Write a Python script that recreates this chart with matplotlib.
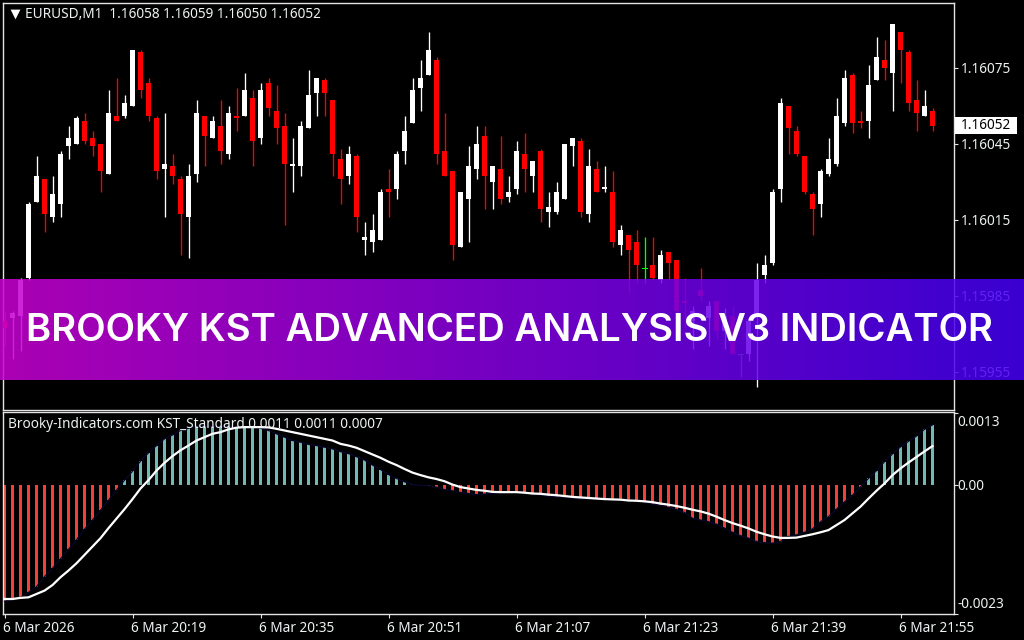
import numpy as np
import matplotlib
matplotlib.use("Agg")
import matplotlib.pyplot as plt
from matplotlib.colors import LinearSegmentedColormap
from matplotlib.patches import Rectangle
from matplotlib.transforms import ScaledTranslation

# prices are stored as points: 16075 means 1.16075
highs = [15979,15979,15992,16022,16040,16031,16032,16042,16052,16056,
         16057,16050,16045,16066,16071,16064,16082,16082,16071,16056,
         16057,16041,16032,16037,16062,16056,16056,16062,16060,16067,
         16073,16066,16069,16071,16068,16057,16047,16054,16074,16071,
         16071,16062,16043,16044,16041,16014,16017,16027,16035,16042,
         16056,16071,16078,16089,16079,16057,16034,16026,16044,16052,
         16052,16036,16048,16032,16046,16049,16038,16043,16026,16030,
         16045,16047,16047,16043,16038,16036,16034,16013,16009,16011,
         16008,16008,16003,16002,15999,15992,15981,15996,15983,15983,
         15980,15981,15962,15975,15998,16001,16027,16063,16060,16052,
         16040,16026,16035,16047,16063,16074,16073,16058,16076,16087,
         16086,16092,16089,16082,16070,16066,16059]
opens = [15975,15976,15977,15992,16022,16031,16016,16021,16044,16045,
         16054,16047,16045,16033,16056,16056,16060,16081,16069,16055,
         16035,16036,16031,16016,16033,16056,16047,16052,16041,16056,
         16056,16063,16047,16069,16058,16052,16036,16036,16051,16065,
         16070,16062,16039,16032,16040,16007,16006,16007,16027,16027,
         16042,16053,16067,16072,16078,16042,16034,16004,16023,16035,
         16048,16030,16035,16024,16027,16041,16032,16042,16018,16018,
         16023,16044,16046,16017,16035,16027,16026,16005,16009,16006,
         15996,15997,15991,16002,15999,15983,15975,15987,15976,15983,
         15971,15977,15962,15962,15978,15993,15998,16027,16060,16050,
         16040,16025,16021,16033,16037,16053,16072,16054,16054,16070,
         16078,16073,16089,16081,16062,16056,16058]
lows = [15965,15960,15963,15991,16022,16010,16014,16016,16039,16045,
        16045,16040,16026,16033,16054,16055,16060,16063,16054,16031,
        16016,16029,16001,16000,16030,16036,16047,16037,16039,16050,
        16056,16036,16045,16056,16045,16013,16026,16032,16051,16056,
        16056,16032,16021,16029,16010,16001,16002,16007,16016,16023,
        16037,16053,16058,16072,16037,16032,15999,16004,16006,16031,
        16019,16019,16021,16022,16025,16026,16026,16014,16012,16017,
        16023,16036,16016,16014,16026,16026,16004,16001,15986,15990,
        15990,15991,15990,15991,15973,15972,15964,15983,15965,15968,
        15964,15962,15953,15959,15949,15990,15997,16022,16041,16040,
        16025,16009,16016,16032,16036,16052,16049,16051,16047,16070,
        16070,16058,16069,16058,16050,16056,16050]
closes = [15972,15978,15991,16021,16032,16017,16025,16041,16047,16055,
          16046,16044,16034,16057,16054,16061,16082,16066,16056,16034,
          16037,16032,16017,16032,16057,16048,16054,16042,16057,16055,
          16066,16046,16066,16059,16051,16037,16037,16052,16064,16071,
          16065,16041,16031,16041,16016,16008,16011,16026,16026,16041,
          16050,16066,16071,16082,16041,16032,16005,16026,16036,16045,
          16032,16036,16023,16026,16042,16035,16038,16019,16020,16026,
          16045,16047,16018,16036,16026,16028,16006,16011,16003,15997,
          15996,15992,16001,15998,15979,15982,15979,15985,15981,15971,
          15977,15962,15962,15975,15991,15997,16026,16061,16051,16041,
          16026,16019,16034,16039,16056,16071,16053,16053,16068,16079,
          16075,16092,16082,16061,16057,16060,16052]

# KST histogram and signal, in units of 0.0001
kst_hist = [-20.8,-20.5,-20.1,-19.2,-18.2,-16.4,-14.9,-13.2,-11.5,-9.8,
            -7.9,-6.25,-4.5,-2.7,-0.9,0.9,2.5,4.3,5.8,7.1,
            8.3,9.0,9.8,10.2,10.6,10.6,10.6,10.5,10.6,10.4,
            10.4,10.4,10.2,9.8,9.2,8.6,8.0,7.7,7.3,7.1,
            6.8,6.5,6.0,5.65,5.1,4.5,3.6,2.8,1.9,1.2,
            0.6,0.12,-0.05,-0.1,-0.35,-0.8,-1.0,-1.3,-1.5,-1.7,
            -1.6,-1.5,-1.4,-1.3,-1.25,-1.4,-1.55,-1.8,-2.0,-2.1,
            -2.2,-2.3,-2.45,-2.45,-2.45,-2.5,-2.55,-2.55,-2.7,-2.75,
            -3.0,-3.4,-3.6,-4.0,-4.35,-4.9,-5.95,-6.25,-6.55,-7.0,
            -7.7,-8.45,-9.05,-9.5,-10.1,-10.3,-10.4,-10.1,-9.2,-8.9,
            -8.45,-7.85,-6.55,-5.65,-4.3,-3.0,-1.8,-0.3,1.2,2.6,
            4.2,5.6,6.85,7.85,8.8,10.0,10.8]
kst_signal = [-20.4,-20.4,-20.2,-20.1,-19.5,-18.9,-17.9,-16.5,-15.3,-14.0,
              -12.5,-11.0,-9.5,-7.7,-6.0,-4.3,-2.5,-0.6,0.9,2.6,
              4.0,5.2,6.25,7.1,8.0,8.6,9.2,9.5,10.0,10.3,
              10.4,10.4,10.4,10.35,10.1,9.8,9.5,9.2,8.9,8.6,
              8.3,8.0,7.4,7.1,6.7,6.1,5.5,4.9,4.2,3.6,
              2.9,2.25,1.8,1.4,1.1,0.7,0.1,-0.35,-0.6,-0.85,
              -1.0,-1.2,-1.25,-1.25,-1.25,-1.35,-1.5,-1.55,-1.7,-1.8,
              -1.95,-2.1,-2.2,-2.3,-2.4,-2.5,-2.55,-2.6,-2.75,-2.8,
              -2.9,-3.05,-3.3,-3.5,-3.75,-4.05,-4.4,-4.7,-5.1,-5.65,
              -6.25,-6.8,-7.25,-7.75,-8.35,-8.8,-9.2,-9.45,-9.45,-9.4,
              -9.1,-8.8,-8.45,-8.05,-7.15,-6.25,-5.05,-3.85,-2.4,-1.0,
              0.3,1.8,3.0,4.05,5.05,6.05,7.0]

price_ticks = [1.16075, 1.16045, 1.16015, 1.15985, 1.15955]
time_labels = ['6 Mar 2026', '6 Mar 20:19', '6 Mar 20:35', '6 Mar 20:51',
               '6 Mar 21:07', '6 Mar 21:23', '6 Mar 21:39', '6 Mar 21:55']

FONT = 'Noto Sans'
FS = 9.8
TXT = '#eef2f2'
LINE = '#e4e4e4'
W, H = 1024.0, 640.0


def px_axes(left, top, right, bottom):
    return [left/W, 1 - bottom/H, (right-left)/W, (bottom-top)/H]


def style_axes(ax):
    ax.set_facecolor('black')
    for s in ax.spines.values():
        s.set_color(LINE)
        s.set_linewidth(1)
    ax.set_xlim(-0.1875, 118.625)
    ax.yaxis.tick_right()


plt.rcParams['font.family'] = [FONT, 'DejaVu Sans']
fig = plt.figure(figsize=(10.24, 6.4), dpi=100, facecolor='black')

# price window
ax = fig.add_axes(px_axes(3, 2.5, 953.5, 409.5))
style_axes(ax)
idx = np.arange(len(closes))
o = 1 + np.array(opens)/1e5
h = 1 + np.array(highs)/1e5
l = 1 + np.array(lows)/1e5
c = 1 + np.array(closes)/1e5
colors = ['white' if c[i] > o[i] else ('#ff0000' if c[i] < o[i] else '#00ff00') for i in idx]
wicks = ax.vlines(idx, l, h, colors=colors, lw=0.95, zorder=2)
wicks.set_snap(True)
ax.bar(idx, np.abs(c-o), bottom=np.minimum(o, c), width=0.625, color=colors, lw=0, zorder=3)
for i in idx[c == o]:
    ax.plot([i-0.3, i+0.3], [c[i], c[i]], color=colors[i], lw=0.72, zorder=3)
ax.set_ylim(1.15940, 1.1610066)
ax.set_xticks([])
ax.set_yticks(price_ticks)
ax.set_yticklabels(['%.5f' % p for p in price_ticks], fontsize=FS, color=TXT)
ax.tick_params(axis='y', length=3, width=0.8, color=LINE, pad=2.5)
ax.scatter([12/950.5], [1-11/407], marker='v', s=50, color='white', lw=0, transform=ax.transAxes, zorder=5)
ax.text(22/950.5, 1-11.5/407, 'EURUSD,M1  1.16058 1.16059 1.16050 1.16052', fontsize=FS, color=TXT,
        va='center', ha='left', transform=ax.transAxes, zorder=5)
ax.add_patch(Rectangle((1.00158, 1.16052-3.35e-5), 0.0649, 6.7e-5, fc='white', ec='none',
                       transform=ax.get_yaxis_transform(), clip_on=False, zorder=6))
ax.text(958/950.5, 1.16052, '1.16052', fontsize=FS, color='black', va='center', ha='left',
        transform=ax.get_yaxis_transform(), zorder=7, clip_on=False)

# indicator window
sub = fig.add_axes(px_axes(3, 411.5, 953.5, 613.5))
style_axes(sub)
hist = np.array(kst_hist)
bar_colors = ['#72b8b4' if v > 0 else '#f0413c' for v in hist]
sub.bar(idx, hist, width=0.45, color=bar_colors, lw=0, zorder=2)
sub.plot(idx, hist, color='#07072e', lw=0.9, zorder=3)
sub.plot(idx, kst_signal, color='white', lw=1.6, zorder=4)
sub.set_ylim(-22.8, 13.2)
sub.set_yticks([13, 0, -23])
sub.set_yticklabels([])
sub.tick_params(axis='y', length=3, width=0.8, color=LINE)
for y_px, s, wt in [(423, '0.0013', 'normal'), (486.5, '0.00', 'bold'), (605, '-0.0023', 'normal')]:
    sub.text(1.004, 1-(y_px-411.5)/202, s, fontsize=FS, color=TXT, va='center', ha='left', weight=wt,
             transform=sub.transAxes, clip_on=False)
sub.text(5/950.5, 1-(424-411.5)/202, 'Brooky-Indicators.com KST_Standard 0.0011 0.0011 0.0007', fontsize=FS,
         color=TXT, va='center', ha='left', transform=sub.transAxes, zorder=6)
sub.set_xticks(np.arange(0, 113, 16))
sub.set_xticklabels(time_labels, fontsize=FS, color=TXT, ha='left')
sub.tick_params(axis='x', length=3, width=0.8, color=LINE, pad=2.7)
shift = ScaledTranslation(-1.5/100, 0, fig.dpi_scale_trans)
for t in sub.get_xticklabels():
    t.set_transform(t.get_transform() + shift)

# banner over the chart
ban = fig.add_axes(px_axes(0, 279, 1024, 380), zorder=10)
ban.axis('off')
cmap = LinearSegmentedColormap.from_list('banner', ['#c800d2', '#4400f4'])
ban.imshow(np.linspace(0, 1, 512).reshape(1, -1), cmap=cmap, aspect='auto', alpha=0.86,
           extent=(0, 1, 0, 1), vmin=0, vmax=1)
ban.set_xlim(0, 1)
ban.set_ylim(0, 1)
ban.text(509/1024, 0.485, 'BROOKY KST ADVANCED ANALYSIS V3 INDICATOR', family='Inter', weight='semibold',
         fontsize=27.65, color='white', ha='center', va='center')

fig.savefig('out.png', dpi=100, facecolor='black')
